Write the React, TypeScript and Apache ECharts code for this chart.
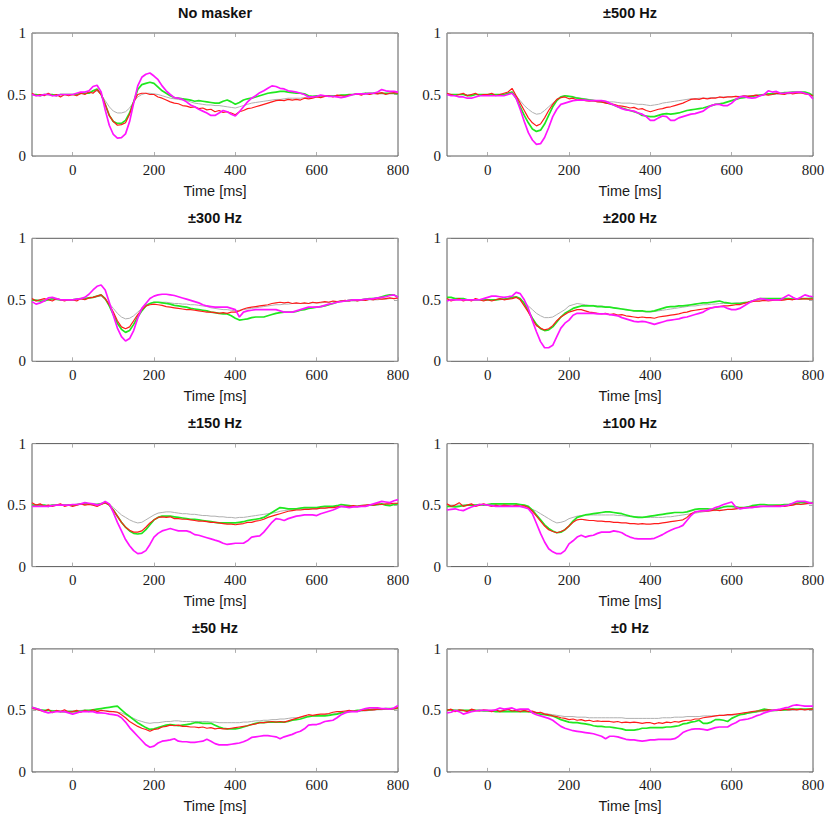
import React, { useEffect, useRef } from "react";
import * as echarts from "echarts";

// ---- axes / labels ----
const TIME = [
  -100, -90, -80, -70, -60, -50, -40, -30, -20, -10,
  0, 10, 20, 30, 40, 50, 60, 70, 80, 90,
  100, 110, 120, 130, 140, 150, 160, 170, 180, 190,
  200, 210, 220, 230, 240, 250, 260, 270, 280, 290,
  300, 310, 320, 330, 340, 350, 360, 370, 380, 390,
  400, 410, 420, 430, 440, 450, 460, 470, 480, 490,
  500, 510, 520, 530, 540, 550, 560, 570, 580, 590,
  600, 610, 620, 630, 640, 650, 660, 670, 680, 690,
  700, 710, 720, 730, 740, 750, 760, 770, 780, 790,
  800,
];
const X_TICKS = [0, 200, 400, 600, 800];
const Y_TICKS = [0, 0.5, 1];
const X_NAME = "Time [ms]";
const PANEL_TITLES = ["No masker", "±500 Hz", "±300 Hz", "±200 Hz", "±150 Hz", "±100 Hz", "±50 Hz", "±0 Hz"];

// ---- No masker ----
const NM_GRAY = [
  .50, .50, .50, .50, .50, .50, .50, .50, .50, .50,
  .50, .50, .505, .51, .51, .52, .53, .50, .45, .40,
  .365, .35, .35, .36, .39, .44, .48, .50, .51, .51,
  .505, .50, .49, .48, .47, .465, .46, .455, .45, .44,
  .43, .425, .42, .415, .415, .41, .41, .405, .40, .395,
  .39, .40, .41, .42, .43, .435, .44, .445, .45, .455,
  .46, .46, .465, .47, .47, .47, .47, .475, .475, .48,
  .48, .485, .485, .49, .49, .49, .495, .495, .50, .50,
  .50, .50, .50, .50, .505, .505, .505, .505, .505, .505,
  .505,
];
const NM_GREEN = [
  .50, .50, .49, .50, .50, .50, .49, .50, .50, .50,
  .50, .50, .51, .51, .51, .53, .545, .50, .42, .33,
  .28, .265, .265, .29, .35, .44, .54, .58, .59, .60,
  .59, .56, .53, .51, .49, .475, .47, .465, .46, .455,
  .445, .45, .445, .44, .435, .43, .43, .445, .455, .44,
  .42, .435, .455, .465, .47, .48, .49, .50, .51, .515,
  .52, .525, .525, .52, .515, .51, .51, .505, .49, .485,
  .49, .49, .49, .49, .49, .49, .495, .495, .50, .50,
  .505, .505, .51, .51, .51, .51, .51, .51, .51, .51,
  .505,
];
const NM_RED = [
  .51, .49, .50, .49, .51, .49, .50, .48, .50, .49,
  .50, .49, .51, .50, .52, .51, .54, .50, .42, .33,
  .28, .25, .255, .27, .34, .44, .50, .51, .51, .50,
  .50, .48, .47, .455, .44, .43, .425, .41, .405, .395,
  .40, .385, .39, .375, .38, .36, .37, .355, .36, .35,
  .335, .36, .37, .385, .39, .40, .41, .42, .43, .44,
  .45, .455, .45, .46, .455, .46, .455, .47, .465, .47,
  .48, .475, .485, .49, .48, .495, .49, .485, .495, .50,
  .505, .495, .51, .50, .51, .505, .515, .50, .51, .515,
  .51,
];
const NM_MAGENTA = [
  .50, .49, .49, .50, .50, .49, .49, .50, .50, .50,
  .50, .51, .52, .52, .53, .565, .575, .52, .375, .25,
  .175, .145, .15, .18, .28, .43, .57, .64, .665, .675,
  .65, .62, .57, .53, .50, .475, .47, .46, .44, .415,
  .40, .38, .365, .35, .33, .33, .35, .37, .36, .34,
  .325, .36, .40, .44, .47, .49, .515, .53, .55, .57,
  .565, .55, .545, .53, .525, .52, .51, .50, .48, .48,
  .485, .495, .49, .485, .485, .48, .475, .48, .49, .50,
  .505, .505, .505, .51, .51, .52, .54, .53, .525, .525,
  .52,
];

// ---- ±500 Hz ----
const P500_GRAY = [
  .50, .50, .50, .50, .50, .50, .50, .50, .50, .50,
  .50, .50, .50, .50, .50, .51, .52, .49, .45, .41,
  .38, .355, .34, .345, .37, .40, .43, .46, .485, .49,
  .485, .48, .475, .47, .465, .46, .455, .45, .45, .445,
  .44, .44, .435, .43, .43, .43, .425, .42, .42, .415,
  .41, .415, .42, .43, .435, .44, .445, .45, .455, .46,
  .465, .465, .47, .47, .47, .475, .475, .475, .48, .48,
  .48, .485, .485, .49, .49, .49, .495, .495, .50, .50,
  .50, .50, .505, .505, .505, .51, .51, .51, .51, .505,
  .50,
];
const P500_GREEN = [
  .50, .50, .50, .50, .50, .49, .49, .50, .50, .50,
  .50, .50, .50, .50, .50, .51, .52, .47, .40, .33,
  .27, .22, .20, .21, .26, .33, .40, .45, .48, .49,
  .485, .48, .47, .465, .46, .455, .45, .445, .44, .435,
  .425, .415, .40, .39, .38, .37, .36, .35, .33, .325,
  .32, .32, .33, .34, .345, .34, .345, .35, .36, .37,
  .375, .38, .385, .39, .40, .41, .42, .425, .43, .44,
  .45, .46, .47, .475, .48, .485, .49, .495, .50, .505,
  .505, .51, .51, .515, .515, .52, .52, .52, .52, .51,
  .49,
];
const P500_RED = [
  .51, .50, .49, .50, .51, .49, .50, .51, .49, .50,
  .50, .51, .49, .50, .51, .52, .55, .49, .43, .37,
  .31, .27, .245, .26, .31, .37, .42, .46, .475, .48,
  .465, .47, .455, .46, .45, .445, .45, .44, .44, .43,
  .425, .42, .41, .405, .40, .39, .395, .38, .385, .37,
  .36, .37, .38, .385, .395, .40, .41, .42, .43, .445,
  .46, .465, .46, .47, .465, .47, .47, .48, .475, .48,
  .48, .485, .48, .49, .485, .49, .495, .49, .50, .495,
  .50, .51, .505, .50, .515, .505, .51, .515, .505, .50,
  .49,
];
const P500_MAGENTA = [
  .50, .49, .49, .48, .48, .47, .47, .48, .49, .49,
  .49, .49, .49, .49, .49, .50, .51, .47, .38, .28,
  .19, .13, .095, .10, .15, .23, .32, .38, .42, .43,
  .44, .45, .455, .455, .455, .45, .45, .45, .45, .445,
  .43, .415, .40, .385, .375, .37, .365, .35, .34, .32,
  .29, .29, .31, .325, .32, .29, .29, .31, .32, .33,
  .34, .345, .355, .365, .39, .41, .42, .42, .41, .41,
  .43, .46, .48, .485, .475, .47, .475, .49, .50, .53,
  .52, .525, .51, .51, .515, .515, .52, .52, .51, .50,
  .465,
];

// ---- ±300 Hz ----
const P300_GRAY = [
  .50, .50, .50, .50, .50, .50, .50, .50, .50, .50,
  .50, .50, .51, .51, .515, .52, .525, .53, .50, .47,
  .43, .39, .36, .345, .35, .37, .40, .43, .46, .47,
  .48, .48, .48, .48, .475, .47, .47, .465, .465, .46,
  .46, .455, .45, .445, .435, .43, .425, .42, .42, .415,
  .41, .415, .42, .425, .43, .435, .44, .445, .45, .455,
  .46, .46, .465, .465, .47, .47, .47, .47, .47, .475,
  .475, .475, .48, .48, .485, .485, .485, .49, .49, .49,
  .49, .495, .495, .50, .50, .50, .505, .505, .51, .51,
  .51,
];
const P300_GREEN = [
  .50, .495, .49, .49, .50, .51, .505, .50, .50, .50,
  .50, .505, .51, .51, .515, .52, .53, .54, .51, .45,
  .38, .31, .26, .235, .25, .30, .36, .41, .45, .47,
  .48, .48, .475, .47, .465, .455, .45, .445, .44, .43,
  .425, .42, .415, .41, .40, .395, .39, .385, .385, .37,
  .35, .335, .34, .345, .355, .36, .36, .36, .37, .38,
  .39, .395, .40, .40, .40, .405, .415, .42, .43, .435,
  .44, .445, .45, .46, .47, .48, .49, .49, .495, .50,
  .50, .50, .505, .51, .51, .515, .525, .535, .54, .54,
  .52,
];
const P300_RED = [
  .51, .49, .50, .51, .50, .49, .51, .50, .49, .50,
  .50, .49, .51, .50, .515, .52, .53, .54, .51, .46,
  .40, .33, .28, .265, .28, .33, .38, .42, .45, .46,
  .465, .46, .455, .445, .44, .435, .43, .425, .42, .42,
  .415, .41, .405, .40, .40, .395, .39, .395, .39, .40,
  .40, .41, .425, .435, .44, .445, .45, .455, .46, .47,
  .475, .48, .475, .48, .47, .475, .47, .475, .47, .48,
  .475, .48, .485, .48, .49, .485, .49, .495, .49, .50,
  .49, .50, .495, .505, .50, .51, .505, .51, .515, .51,
  .515,
];
const P300_MAGENTA = [
  .485, .465, .475, .49, .515, .52, .51, .50, .50, .50,
  .50, .505, .51, .52, .545, .58, .61, .62, .58, .48,
  .375, .27, .20, .165, .185, .25, .35, .43, .47, .51,
  .53, .54, .545, .545, .54, .535, .525, .515, .505, .495,
  .485, .475, .46, .45, .445, .44, .44, .44, .44, .43,
  .42, .36, .40, .41, .415, .42, .42, .42, .42, .42,
  .42, .41, .40, .40, .40, .41, .42, .43, .44, .44,
  .44, .445, .455, .465, .47, .48, .485, .49, .495, .50,
  .50, .50, .505, .505, .51, .515, .52, .525, .535, .54,
  .52,
];

// ---- ±200 Hz ----
const P200_GRAY = [
  .50, .50, .50, .50, .50, .50, .50, .50, .50, .50,
  .50, .50, .50, .50, .505, .51, .515, .52, .51, .48,
  .45, .42, .39, .37, .355, .355, .36, .38, .40, .42,
  .45, .46, .47, .465, .46, .455, .455, .45, .45, .445,
  .44, .435, .43, .425, .42, .415, .41, .405, .405, .40,
  .40, .405, .41, .415, .42, .425, .43, .435, .44, .445,
  .45, .45, .455, .46, .46, .465, .465, .47, .47, .47,
  .47, .475, .475, .48, .48, .485, .49, .49, .495, .495,
  .495, .50, .50, .50, .505, .505, .505, .51, .51, .51,
  .51,
];
const P200_GREEN = [
  .52, .52, .51, .51, .51, .50, .50, .50, .50, .50,
  .50, .50, .50, .505, .505, .51, .52, .525, .51, .47,
  .41, .35, .30, .265, .25, .255, .28, .32, .36, .39,
  .41, .43, .44, .45, .45, .45, .45, .445, .445, .44,
  .44, .435, .43, .425, .42, .415, .41, .41, .41, .405,
  .405, .41, .42, .43, .44, .445, .445, .45, .45, .455,
  .46, .465, .47, .475, .475, .48, .485, .49, .48, .475,
  .47, .47, .47, .475, .48, .49, .50, .51, .51, .51,
  .51, .51, .51, .51, .51, .505, .505, .51, .51, .51,
  .515,
];
const P200_RED = [
  .51, .49, .50, .51, .49, .50, .49, .51, .50, .49,
  .50, .49, .50, .51, .50, .505, .51, .52, .50, .45,
  .40, .34, .29, .27, .255, .265, .29, .33, .36, .38,
  .40, .41, .42, .42, .41, .40, .395, .39, .385, .39,
  .38, .385, .375, .38, .37, .365, .36, .355, .36, .355,
  .355, .35, .36, .365, .37, .375, .38, .385, .395, .40,
  .41, .415, .42, .425, .43, .435, .44, .445, .45, .45,
  .455, .46, .46, .47, .48, .485, .49, .49, .495, .49,
  .495, .50, .495, .50, .505, .50, .51, .505, .51, .505,
  .505,
];
const P200_MAGENTA = [
  .49, .50, .50, .50, .50, .50, .50, .50, .50, .51,
  .52, .53, .53, .525, .52, .525, .53, .56, .55, .50,
  .43, .33, .24, .16, .11, .11, .13, .20, .27, .31,
  .335, .375, .39, .39, .39, .39, .39, .385, .385, .385,
  .38, .375, .37, .355, .345, .335, .325, .32, .325, .32,
  .31, .30, .31, .32, .33, .335, .34, .345, .355, .36,
  .37, .38, .39, .40, .42, .435, .44, .445, .445, .43,
  .42, .42, .43, .45, .47, .49, .50, .51, .505, .50,
  .50, .50, .50, .52, .54, .52, .505, .52, .54, .53,
  .525,
];

// ---- ±150 Hz ----
const P150_GRAY = [
  .50, .50, .50, .50, .50, .50, .50, .50, .50, .50,
  .50, .50, .505, .505, .51, .51, .51, .515, .52, .51,
  .48, .45, .42, .40, .38, .365, .355, .36, .38, .40,
  .42, .435, .44, .445, .445, .44, .435, .43, .43, .425,
  .425, .42, .415, .415, .41, .41, .405, .405, .40, .40,
  .395, .40, .40, .405, .41, .415, .42, .425, .43, .435,
  .44, .45, .455, .46, .46, .465, .465, .47, .47, .47,
  .47, .475, .475, .48, .48, .48, .485, .485, .49, .49,
  .49, .495, .495, .50, .50, .50, .505, .505, .51, .51,
  .51,
];
const P150_GREEN = [
  .50, .50, .50, .50, .49, .50, .50, .50, .50, .50,
  .50, .505, .51, .51, .51, .505, .505, .51, .52, .50,
  .46, .41, .36, .32, .29, .27, .265, .27, .30, .34,
  .38, .40, .41, .41, .41, .405, .40, .395, .39, .385,
  .385, .38, .375, .37, .365, .36, .355, .355, .355, .355,
  .355, .36, .365, .375, .38, .385, .39, .40, .42, .44,
  .46, .48, .475, .47, .47, .47, .475, .48, .48, .48,
  .48, .485, .49, .49, .49, .495, .505, .50, .495, .49,
  .49, .495, .495, .50, .50, .505, .51, .50, .495, .505,
  .51,
];
const P150_RED = [
  .52, .50, .51, .49, .50, .49, .50, .51, .49, .50,
  .49, .50, .51, .50, .505, .50, .49, .505, .52, .50,
  .46, .41, .36, .32, .295, .28, .28, .29, .32, .355,
  .38, .40, .405, .40, .405, .39, .39, .385, .385, .38,
  .375, .37, .37, .365, .36, .36, .355, .35, .345, .345,
  .34, .345, .35, .36, .36, .37, .375, .385, .40, .41,
  .42, .43, .44, .45, .455, .46, .46, .465, .465, .47,
  .47, .475, .475, .48, .48, .485, .49, .49, .49, .495,
  .49, .495, .50, .505, .50, .51, .505, .51, .51, .515,
  .515,
];
const P150_MAGENTA = [
  .49, .49, .49, .49, .49, .495, .50, .50, .50, .50,
  .505, .505, .51, .52, .515, .51, .50, .51, .53, .51,
  .44, .36, .29, .22, .17, .13, .105, .11, .13, .18,
  .24, .27, .29, .30, .31, .30, .29, .29, .29, .28,
  .26, .255, .245, .235, .225, .215, .205, .19, .18, .185,
  .19, .19, .19, .21, .24, .245, .25, .28, .32, .36,
  .39, .385, .375, .39, .40, .41, .415, .42, .42, .42,
  .415, .43, .44, .45, .46, .475, .49, .485, .48, .485,
  .485, .49, .49, .50, .51, .52, .53, .525, .52, .535,
  .545,
];

// ---- ±100 Hz ----
const P100_GRAY = [
  .50, .50, .50, .50, .50, .50, .50, .50, .50, .50,
  .50, .50, .50, .50, .50, .50, .50, .50, .495, .49,
  .48, .465, .45, .43, .41, .39, .37, .355, .36, .37,
  .39, .40, .41, .415, .42, .42, .42, .42, .42, .42,
  .42, .42, .415, .415, .41, .41, .405, .405, .40, .40,
  .40, .40, .40, .40, .405, .405, .41, .415, .42, .425,
  .43, .435, .44, .445, .45, .455, .455, .46, .46, .465,
  .465, .47, .47, .475, .48, .48, .485, .485, .49, .49,
  .49, .495, .495, .50, .50, .50, .505, .505, .51, .51,
  .51,
];
const P100_GREEN = [
  .49, .49, .485, .49, .495, .50, .50, .50, .505, .50,
  .505, .51, .51, .51, .51, .51, .51, .51, .505, .50,
  .49, .46, .42, .38, .34, .31, .29, .275, .28, .30,
  .33, .37, .40, .41, .42, .425, .43, .435, .44, .445,
  .445, .44, .435, .43, .42, .41, .405, .40, .40, .405,
  .41, .415, .42, .425, .43, .435, .44, .44, .44, .445,
  .455, .465, .47, .47, .47, .465, .465, .475, .485, .49,
  .49, .485, .48, .48, .485, .495, .50, .505, .505, .50,
  .50, .50, .50, .505, .505, .51, .515, .52, .52, .52,
  .52,
];
const P100_RED = [
  .51, .49, .50, .52, .49, .50, .51, .49, .50, .51,
  .50, .49, .50, .49, .50, .495, .49, .50, .49, .495,
  .48, .45, .41, .37, .33, .30, .285, .275, .285, .30,
  .33, .36, .38, .385, .38, .375, .375, .37, .37, .365,
  .365, .36, .36, .355, .355, .35, .35, .345, .35, .345,
  .345, .35, .35, .355, .36, .365, .37, .375, .38, .40,
  .43, .445, .45, .455, .45, .455, .46, .455, .46, .465,
  .465, .47, .475, .48, .48, .485, .485, .49, .49, .49,
  .49, .495, .495, .49, .495, .50, .51, .505, .51, .515,
  .515,
];
const P100_MAGENTA = [
  .46, .465, .47, .46, .455, .47, .485, .495, .505, .505,
  .50, .495, .49, .49, .49, .49, .49, .49, .49, .48,
  .47, .43, .35, .27, .20, .145, .12, .105, .105, .13,
  .185, .21, .24, .255, .24, .25, .255, .27, .28, .28,
  .28, .29, .285, .275, .255, .24, .23, .225, .225, .225,
  .225, .23, .245, .26, .28, .295, .31, .32, .335, .375,
  .415, .445, .45, .455, .455, .465, .48, .49, .505, .515,
  .525, .485, .47, .475, .48, .48, .485, .49, .49, .49,
  .49, .49, .49, .495, .50, .515, .53, .53, .53, .52,
  .515,
];

// ---- ±50 Hz ----
const P50_GRAY = [
  .51, .505, .50, .50, .50, .50, .495, .495, .495, .495,
  .495, .495, .50, .50, .50, .50, .50, .50, .50, .495,
  .49, .485, .48, .465, .45, .435, .42, .41, .40, .395,
  .40, .40, .405, .41, .41, .415, .415, .41, .41, .41,
  .41, .41, .41, .41, .405, .405, .40, .40, .40, .40,
  .40, .40, .405, .405, .41, .415, .415, .42, .42, .425,
  .425, .43, .43, .435, .44, .44, .445, .45, .45, .455,
  .455, .46, .465, .47, .47, .475, .48, .485, .49, .49,
  .49, .495, .495, .50, .50, .505, .505, .51, .51, .51,
  .51,
];
const P50_GREEN = [
  .525, .515, .505, .50, .50, .495, .495, .49, .49, .49,
  .49, .49, .495, .50, .50, .505, .51, .515, .52, .525,
  .53, .535, .505, .475, .45, .425, .40, .38, .36, .345,
  .35, .36, .37, .38, .385, .38, .375, .38, .385, .39,
  .40, .40, .395, .395, .395, .38, .365, .355, .35, .35,
  .35, .355, .365, .375, .385, .395, .40, .40, .405, .405,
  .405, .405, .405, .41, .42, .425, .43, .44, .45, .455,
  .455, .455, .455, .46, .465, .47, .48, .485, .49, .495,
  .50, .50, .505, .505, .51, .51, .51, .515, .515, .515,
  .52,
];
const P50_RED = [
  .52, .51, .50, .49, .51, .48, .50, .49, .505, .485,
  .49, .50, .485, .50, .49, .505, .49, .50, .495, .49,
  .49, .485, .465, .44, .41, .39, .37, .355, .345, .33,
  .345, .35, .365, .37, .38, .375, .38, .37, .37, .365,
  .365, .36, .365, .355, .36, .35, .355, .35, .35, .355,
  .36, .365, .37, .375, .385, .39, .40, .40, .405, .41,
  .405, .41, .405, .415, .425, .435, .445, .455, .465, .46,
  .465, .47, .47, .475, .485, .49, .49, .495, .50, .495,
  .495, .50, .50, .505, .505, .51, .51, .515, .51, .515,
  .52,
];
const P50_MAGENTA = [
  .525, .515, .505, .49, .48, .485, .49, .49, .49, .48,
  .47, .48, .49, .49, .49, .49, .48, .48, .477, .47,
  .465, .46, .44, .405, .36, .325, .29, .255, .22, .20,
  .21, .235, .25, .255, .26, .27, .25, .245, .245, .24,
  .24, .245, .25, .265, .25, .23, .22, .22, .22, .225,
  .23, .235, .245, .26, .28, .285, .29, .295, .295, .29,
  .285, .27, .285, .295, .305, .32, .33, .35, .38, .385,
  .385, .395, .41, .415, .42, .44, .465, .48, .49, .49,
  .49, .505, .515, .52, .52, .52, .515, .515, .51, .52,
  .54,
];

// ---- ±0 Hz ----
const P0_GRAY = [
  .50, .50, .50, .50, .50, .50, .50, .50, .50, .50,
  .50, .50, .50, .50, .50, .50, .50, .495, .495, .495,
  .49, .49, .485, .48, .475, .47, .465, .46, .455, .45,
  .45, .45, .445, .445, .445, .44, .44, .44, .44, .44,
  .44, .44, .44, .44, .435, .435, .435, .435, .435, .435,
  .435, .435, .435, .44, .44, .44, .445, .445, .445, .45,
  .45, .45, .45, .455, .455, .455, .455, .46, .46, .46,
  .46, .465, .465, .47, .475, .48, .485, .49, .49, .495,
  .495, .50, .50, .50, .50, .50, .505, .505, .505, .505,
  .505,
];
const P0_GREEN = [
  .505, .505, .50, .50, .50, .50, .50, .50, .50, .495,
  .495, .495, .49, .49, .49, .49, .49, .49, .49, .49,
  .49, .485, .48, .47, .465, .46, .455, .44, .425, .415,
  .405, .40, .40, .395, .39, .385, .375, .37, .37, .365,
  .365, .36, .355, .35, .34, .34, .34, .345, .355, .355,
  .36, .36, .36, .36, .365, .365, .37, .375, .39, .395,
  .405, .41, .42, .395, .395, .405, .425, .425, .42, .41,
  .435, .45, .465, .47, .48, .485, .49, .50, .51, .505,
  .50, .50, .505, .505, .51, .51, .51, .51, .51, .51,
  .515,
];
const P0_RED = [
  .50, .51, .49, .505, .50, .49, .51, .50, .495, .505,
  .50, .49, .505, .49, .50, .51, .495, .50, .49, .50,
  .49, .495, .48, .485, .47, .465, .455, .45, .44, .435,
  .425, .43, .42, .425, .415, .42, .41, .415, .41, .41,
  .41, .405, .41, .40, .405, .40, .405, .40, .395, .40,
  .40, .39, .40, .395, .405, .40, .41, .405, .415, .42,
  .42, .43, .43, .44, .445, .45, .455, .46, .46, .465,
  .465, .47, .475, .48, .485, .49, .495, .495, .50, .505,
  .50, .505, .50, .51, .505, .51, .505, .51, .505, .51,
  .51,
];
const P0_MAGENTA = [
  .48, .485, .50, .49, .47, .48, .49, .495, .50, .50,
  .50, .50, .505, .52, .51, .515, .52, .505, .51, .51,
  .51, .48, .465, .455, .445, .435, .42, .395, .37, .355,
  .345, .335, .33, .325, .32, .315, .31, .30, .29, .27,
  .29, .29, .285, .275, .265, .26, .26, .255, .25, .255,
  .26, .26, .265, .265, .265, .265, .27, .29, .32, .335,
  .345, .35, .35, .345, .34, .35, .36, .365, .365, .365,
  .385, .40, .42, .425, .43, .44, .455, .465, .48, .49,
  .50, .505, .51, .52, .525, .54, .545, .54, .535, .535,
  .535,
];

const PANEL_SERIES = [
  [NM_GRAY, NM_GREEN, NM_RED, NM_MAGENTA],
  [P500_GRAY, P500_GREEN, P500_RED, P500_MAGENTA],
  [P300_GRAY, P300_GREEN, P300_RED, P300_MAGENTA],
  [P200_GRAY, P200_GREEN, P200_RED, P200_MAGENTA],
  [P150_GRAY, P150_GREEN, P150_RED, P150_MAGENTA],
  [P100_GRAY, P100_GREEN, P100_RED, P100_MAGENTA],
  [P50_GRAY, P50_GREEN, P50_RED, P50_MAGENTA],
  [P0_GRAY, P0_GREEN, P0_RED, P0_MAGENTA],
];

const LINE_STYLES = [
  { color: "#b0b0b0", width: 1 },
  { color: "#1fe81f", width: 1.7 },
  { color: "#ff1a1a", width: 1.2 },
  { color: "#ff14ff", width: 1.7 },
];

const COL_LEFT = [32, 447];
const TOP0 = 33;
const ROW_PITCH = 205.3;
const GW = 366;
const GH = 123;
const SERIF = "Liberation Serif";
const SANS = "Liberation Sans";

function buildOption() {
  const grid: any[] = [];
  const xAxis: any[] = [];
  const yAxis: any[] = [];
  const series: any[] = [];
  const graphic: any[] = [];
  PANEL_TITLES.forEach((title, i) => {
    const col = i % 2;
    const row = Math.floor(i / 2);
    const left = COL_LEFT[col];
    const top = TOP0 + row * ROW_PITCH;
    grid.push({ left, top, width: GW, height: GH, show: true, borderColor: "#5a5a5a", borderWidth: 1, backgroundColor: "transparent" });
    const tick = { show: true, inside: true, length: 4, lineStyle: { color: "#9a9a9a", width: 0.8 } };
    const line = { show: false, onZero: false };
    xAxis.push({
      gridIndex: i, type: "value", min: -100, max: 800, position: "bottom",
      axisLine: line, splitLine: { show: false },
      axisTick: { ...tick, customValues: X_TICKS },
      axisLabel: { customValues: X_TICKS, margin: 6, fontFamily: SERIF, fontSize: 15, color: "#1a1a1a" },
      name: X_NAME, nameLocation: "middle", nameGap: 27,
      nameTextStyle: { fontFamily: SANS, fontSize: 14.5, color: "#1a1a1a" },
    });
    xAxis.push({
      gridIndex: i, type: "value", min: -100, max: 800, position: "top",
      axisLine: line, splitLine: { show: false },
      axisTick: { ...tick, customValues: X_TICKS }, axisLabel: { show: false },
    });
    yAxis.push({
      gridIndex: i, type: "value", min: 0, max: 1, position: "left",
      axisLine: line, splitLine: { show: false },
      axisTick: { ...tick, customValues: Y_TICKS },
      axisLabel: { customValues: Y_TICKS, margin: 6, fontFamily: SERIF, fontSize: 15, color: "#1a1a1a" },
    });
    yAxis.push({
      gridIndex: i, type: "value", min: 0, max: 1, position: "right",
      axisLine: line, splitLine: { show: false },
      axisTick: { ...tick, customValues: Y_TICKS }, axisLabel: { show: false },
    });
    PANEL_SERIES[i].forEach((vals, k) => {
      series.push({
        type: "line", xAxisIndex: 2 * i, yAxisIndex: 2 * i,
        data: TIME.map((t, j) => [t, vals[j]]),
        showSymbol: false, symbol: "none", smooth: false,
        lineStyle: { color: LINE_STYLES[k].color, width: LINE_STYLES[k].width },
        itemStyle: { color: LINE_STYLES[k].color },
        z: 2 + k, silent: true,
      });
    });
    graphic.push({
      type: "text", x: left + GW / 2, y: top - 20.5,
      style: {
        text: title, fill: "#111", fontFamily: SANS, fontWeight: "bold", fontSize: 14.5,
        align: "center", verticalAlign: "middle", textAlign: "center", textVerticalAlign: "middle",
      },
    });
  });
  return { animation: false, backgroundColor: "#ffffff", grid, xAxis, yAxis, series, graphic };
}

export default function App() {
  const ref = useRef<HTMLDivElement>(null);
  useEffect(() => {
    if (!ref.current) return;
    const chart = echarts.init(ref.current, undefined, { renderer: "svg" });
    chart.setOption(buildOption() as any);
    return () => chart.dispose();
  }, []);
  return (
    <div
      ref={ref}
      style={{ position: "fixed", left: 0, top: 0, width: 831, height: 822, background: "#fff" }}
    />
  );
}
